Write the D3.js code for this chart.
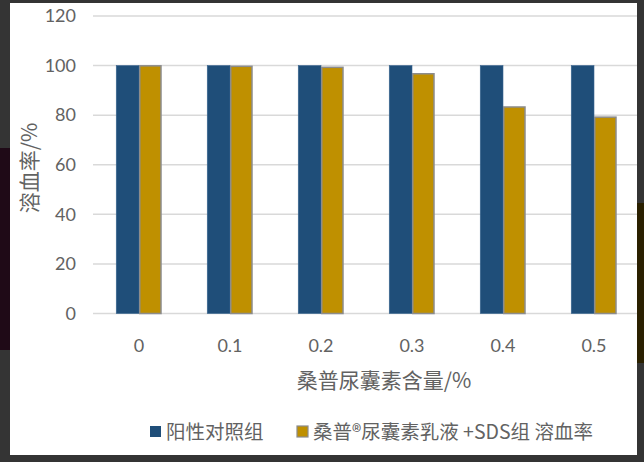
<!DOCTYPE html>
<html><head><meta charset="utf-8">
<script src="https://cdn.jsdelivr.net/npm/d3@7"></script>
<style>body{margin:0;background:#333;}svg{display:block;}</style>
</head><body>
<script>
const categories = ["0","0.1","0.2","0.3","0.4","0.5"];
const seriesNames = ["阳性对照组","桑普®尿囊素乳液 +SDS组 溶血率"];
const positiveControl = [100,100,100,100,100,100];
const sangpuSDS = [99.9,99.7,99.3,96.7,83.3,79.2];
const yTicks = [0,20,40,60,80,100,120];
const colors = ["#1f4e79","#bf9000"];

const W=644,H=462;
const svg=d3.select("body").append("svg").attr("width",W).attr("height",H);
// surrounding background
svg.append("rect").attr("width",W).attr("height",H).attr("fill","#343434");
svg.append("rect").attr("x",0).attr("y",148).attr("width",10).attr("height",202).attr("fill","#1f0a17");
svg.append("rect").attr("x",637).attr("y",203).attr("width",7).attr("height",160).attr("fill","#2a2000");
// panel
const px=10,py=3,pw=627,ph=452;
svg.append("defs").append("clipPath").attr("id","pc").append("rect").attr("x",px).attr("y",py).attr("width",pw).attr("height",ph);
svg.append("rect").attr("x",px).attr("y",py).attr("width",pw).attr("height",ph).attr("fill","#fff");
const g=svg.append("g").attr("clip-path","url(#pc)");

const y=d3.scaleLinear().domain([0,120]).range([313.5,16]);
const x0=d3.scaleBand().domain(categories).range([93.5,639.5]).paddingInner(0.5).paddingOuter(0.25);
const x1=d3.scaleBand().domain([0,1]).range([0,x0.bandwidth()]);

// gridlines
g.selectAll("line.grid").data(yTicks).join("line")
 .attr("x1",93).attr("x2",640).attr("y1",d=>y(d)).attr("y2",d=>y(d))
 .attr("stroke","#d9d9d9").attr("stroke-width",1.5);

const font="Lato, 'Open Sans', 'Noto Sans CJK SC', sans-serif";
const txt="#626262";
// y tick labels
g.selectAll("text.yt").data(yTicks).join("text")
 .attr("x",76).attr("y",d=>y(d)).attr("dy","0.35em").attr("text-anchor","end")
 .attr("font-family",font).attr("font-size",18).attr("fill",txt).text(d=>d);

// bars
const data=categories.map((c,i)=>({c,vals:[positiveControl[i],sangpuSDS[i]]}));
const grp=g.selectAll("g.cat").data(data).join("g").attr("transform",d=>`translate(${x0(d.c)},0)`);
grp.selectAll("rect").data(d=>d.vals.map((v,k)=>({v,k}))).join("rect")
 .attr("x",d=>x1(d.k)+(d.k===1?0.75:0)).attr("width",d=>x1.bandwidth()-(d.k===1?1.5:0))
 .attr("y",d=>y(d.v)).attr("height",d=>y(0)-y(d.v))
 .attr("fill",d=>colors[d.k])
 .attr("stroke",d=>d.k===1?"#8c8c8c":"#3a6690").attr("stroke-width",d=>d.k===1?1.5:0.6);

// x tick labels
g.selectAll("text.xt").data(categories).join("text")
 .attr("x",d=>x0(d)+x0.bandwidth()/2).attr("y",346).attr("dy","0.35em").attr("text-anchor","middle")
 .attr("font-family",font).attr("font-size",18).attr("fill",txt).text(d=>d);

// axis titles
g.append("text").attr("transform","translate(30,168) rotate(-90)").attr("text-anchor","middle").attr("dy","0.35em")
 .attr("font-family","'Noto Sans CJK SC', sans-serif").attr("font-size",21).attr("fill",txt).text("溶血率/%");
g.append("text").attr("x",384).attr("y",381).attr("dy","0.35em").attr("text-anchor","middle")
 .attr("font-family","'Noto Sans CJK SC', sans-serif").attr("font-size",21).attr("fill",txt).text("桑普尿囊素含量/%");

// legend
const legX=[150,297];
const lg=g.selectAll("g.leg").data(seriesNames).join("g").attr("transform",(d,i)=>`translate(${legX[i]},432)`);
lg.append("rect").attr("x",0).attr("y",-6).attr("width",11).attr("height",11)
 .attr("fill",(d,i)=>colors[i]).attr("stroke",(d,i)=>i===1?"#8c8c8c":"none").attr("stroke-width",1.2);
lg.append("text").attr("x",16).attr("y",0).attr("dy","0.35em")
 .attr("font-family","'Noto Sans CJK SC', sans-serif").attr("font-size",19.5).attr("fill",txt).text(d=>d);
</script>
</body></html>
